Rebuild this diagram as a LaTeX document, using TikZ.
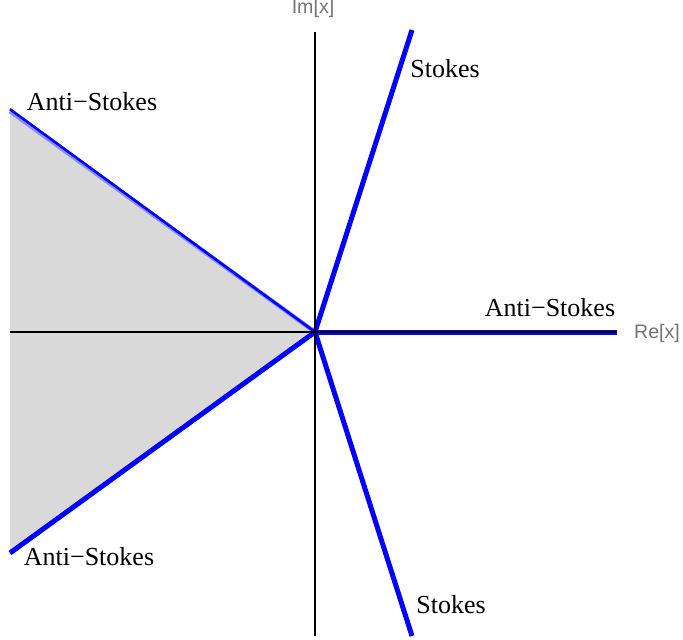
\documentclass[tikz,border=0pt]{standalone}
\usepackage{fontspec}
\setmainfont{Liberation Serif}
\newfontfamily\axisfont{Liberation Sans}
\usepackage{tikz}
\usetikzlibrary{positioning}

\begin{document}
\begin{tikzpicture}[
    x=0.5pt, y=-0.5pt,
    axis/.style={black, line width=0.6pt},
    ray/.style={blue, line width=2.5pt},
    lbl/.style={font=\fontsize{13}{15}\selectfont, inner sep=1pt},
    axlbl/.style={font=\axisfont\fontsize{9.8}{11}\selectfont, text=black!55, inner sep=1pt},
]
    \useasboundingbox (0,0) rectangle (683,640);
    % origin and ends of the rays
    \coordinate (O) at (315,332);
    \coordinate (su) at (412,30);
    \coordinate (sd) at (412,636);
    \coordinate (ar) at (617,332);
    \coordinate (aul) at (10,110);
    \coordinate (all) at (10,553);
    \coordinate (ytop) at (315,32);
    \coordinate (ybot) at (315,636);
    \coordinate (xleft) at (10,332);

    % shaded sector
    \fill[black!15] (aul) -- (O) -- (all) -- cycle;

    % rays
    \draw[blue!45, line width=2.2pt] ([yshift=-0.6pt]aul) -- (O);
    \draw[blue, line width=1.3pt] ([yshift=0.4pt]aul) -- (O);
    \draw[ray] (O) -- (all);
    \draw[ray] (O) -- (su);
    \draw[ray] (O) -- (sd);
    \draw[ray] (O) -- (ar);

    % axes
    \draw[axis] (ytop) -- (ybot);
    \draw[axis] (xleft) -- (ar);

    % labels
    \node[axlbl] (im) at (313,8) {Im[x]};
    \node[axlbl] (re) at (657,333) {Re[x]};
    \node[lbl] (stup) at (445,69) {Stokes};
    \node[lbl] (stdn) at (451,605) {Stokes};
    \node[lbl] (asul) at (92,102) {Anti−Stokes};
    \node[lbl] (asr) at (550,308) {Anti−Stokes};
    \node[lbl] (asll) at (89,557) {Anti−Stokes};
\end{tikzpicture}
\end{document}
